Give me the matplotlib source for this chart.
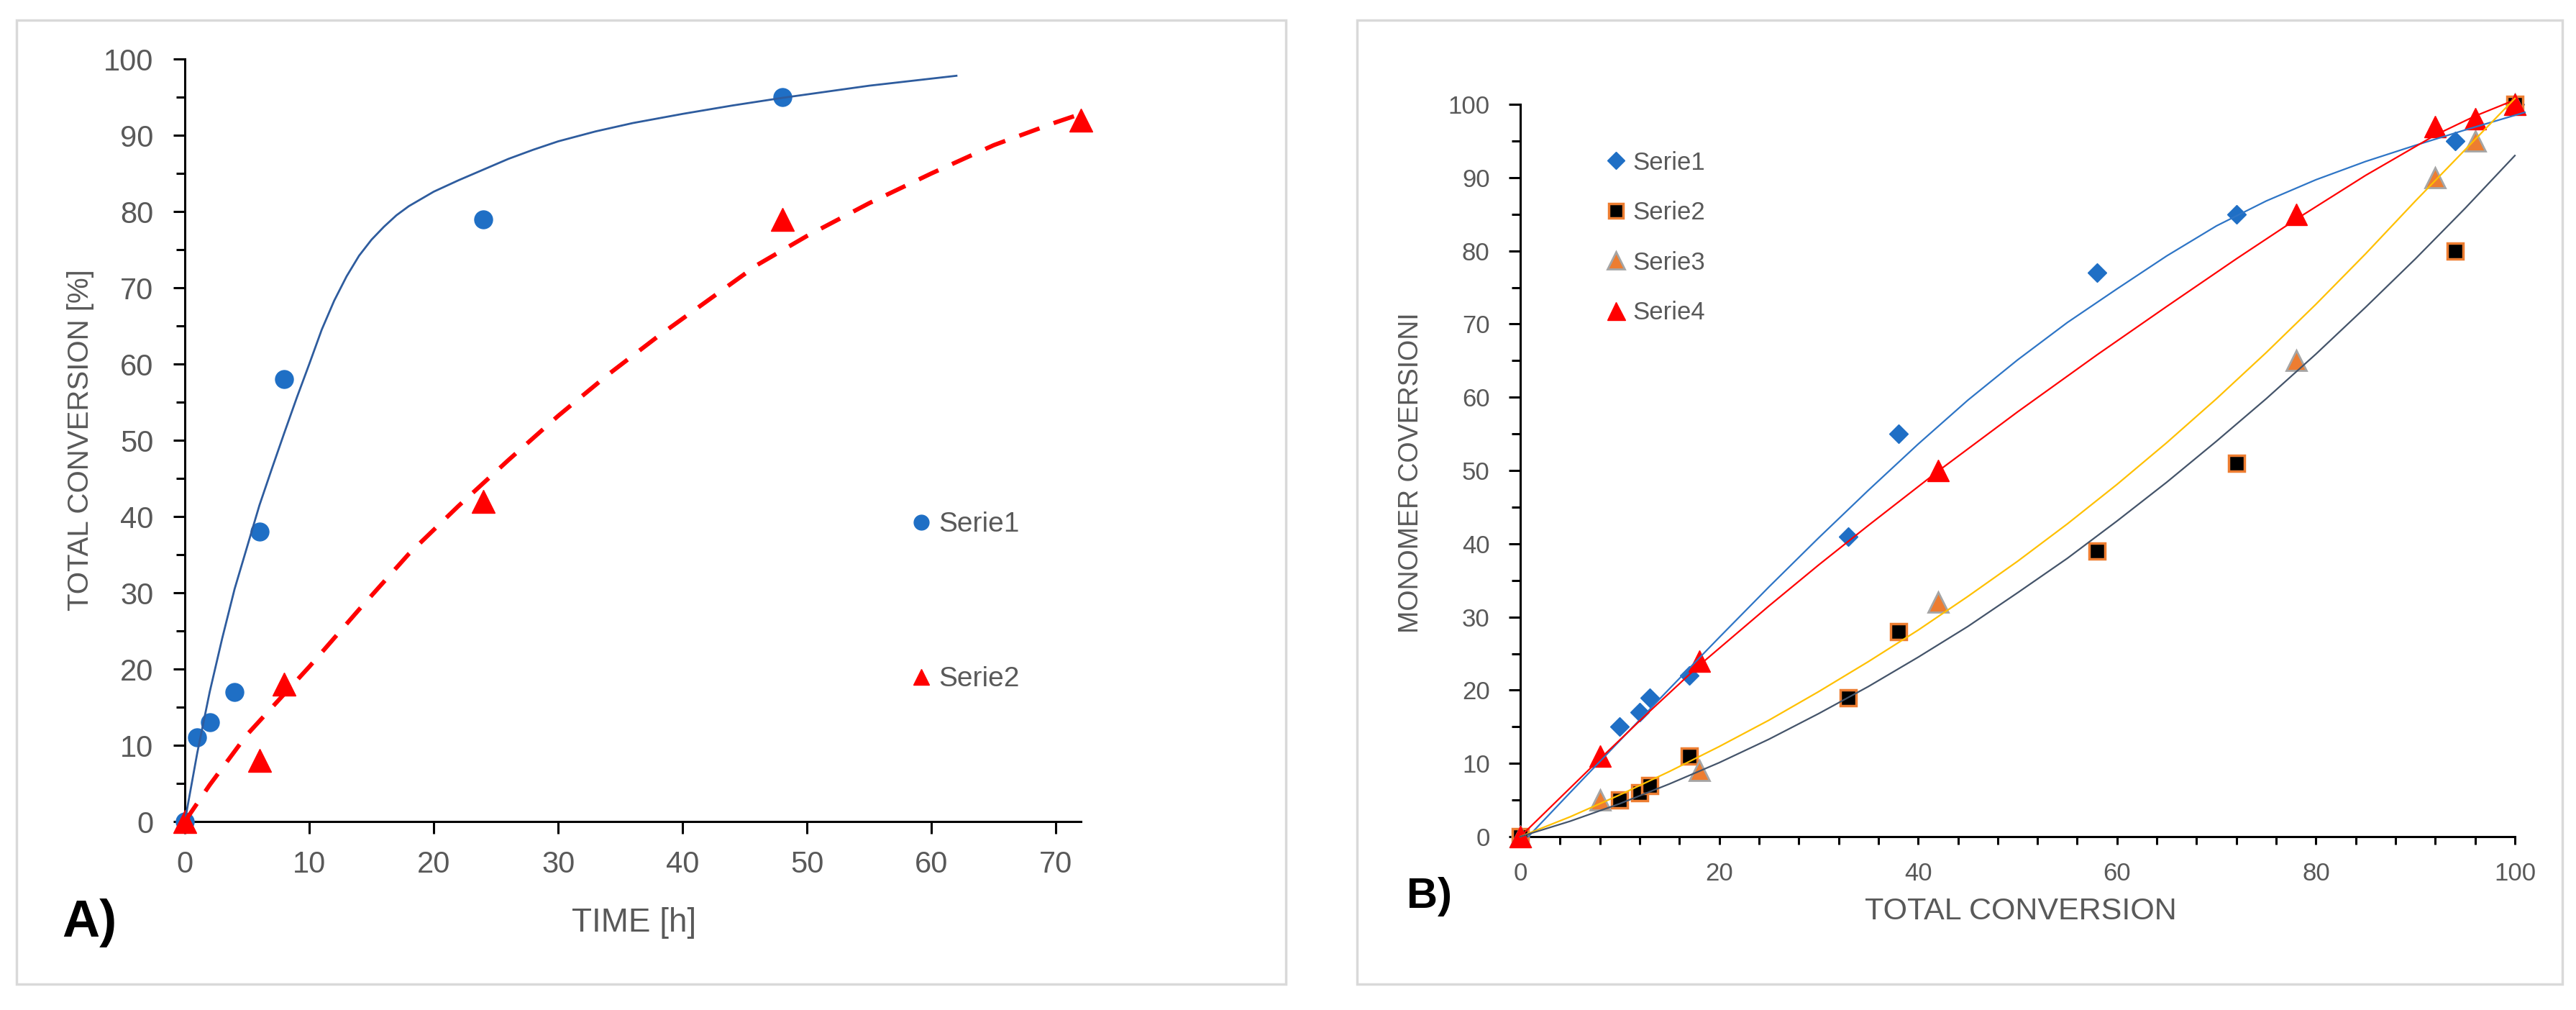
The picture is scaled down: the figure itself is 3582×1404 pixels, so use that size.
import matplotlib
matplotlib.use('Agg')
import matplotlib.pyplot as plt
from matplotlib.ticker import MultipleLocator
from matplotlib.patches import Rectangle
from matplotlib.lines import Line2D

narrow = ['Liberation Sans Narrow', 'Liberation Sans', 'DejaVu Sans']
regular = ['Liberation Sans', 'DejaVu Sans']
plt.rcParams['font.family'] = narrow
grey_txt = '#595959'

# ---- panel A : total conversion vs time ----
time_s1 = [0, 1, 2, 4, 6, 8, 24, 48]
conv_s1 = [0, 11, 13, 17, 38, 58, 79, 95]
time_s2 = [0, 6, 8, 24, 48, 72]
conv_s2 = [0, 8, 18, 42, 79, 92]
# trend curves
fit1_t = [0, 1, 2, 3, 4, 5, 6, 7, 8, 9, 10, 11, 12, 13, 14, 15, 16, 17, 18, 20, 22, 24, 26, 28,
          30, 33, 36, 40, 44, 48, 55, 62]
fit1_c = [0, 9, 17, 24, 30.5, 36, 41.5, 46.3, 51, 55.6, 60, 64.5, 68.3, 71.5, 74.2, 76.3, 78,
          79.5, 80.7, 82.6, 84.1, 85.5, 86.9, 88.1, 89.2, 90.5, 91.6, 92.8, 93.9, 94.9, 96.5, 97.8]
fit2_t = [0, 2, 5, 10, 14, 18, 22, 26, 30, 34, 38, 42, 46, 50, 55, 60, 65, 70, 72]
fit2_c = [0, 4.8, 11.4, 20.3, 27.8, 35.1, 41.4, 47.4, 53.2, 58.6, 63.6, 68.3, 73, 76.8, 81.1,
          85, 88.7, 91.7, 92.8]

# ---- panel B : monomer conversion vs total conversion ----
tot_12 = [0, 10, 12, 13, 17, 33, 38, 58, 72, 94, 100]
mono_s1 = [0, 15, 17, 19, 22, 41, 55, 77, 85, 95, 100]
mono_s2 = [0, 5, 6, 7, 11, 19, 28, 39, 51, 80, 100]
tot_34 = [0, 8, 18, 42, 78, 92, 96, 100]
mono_s3 = [0, 5, 9, 32, 65, 90, 95, 100]
mono_s4 = [0, 11, 24, 50, 85, 97, 98, 100]

blue_x = [0.8, 5, 10, 15, 20, 25, 30, 35, 40, 45, 50, 55, 60, 65, 70, 75, 80, 85, 90, 95, 101]
blue_y = [0, 6, 13.1, 20.2, 27.2, 34.1, 40.8, 47.3, 53.6, 59.6, 65.1, 70.2, 74.8, 79.3, 83.4,
          86.8, 89.7, 92.2, 94.4, 96.5, 98.9]
red_x = [0, 8, 13, 18, 25, 30, 35, 42, 50, 58, 65, 72, 78, 85, 92, 96, 100]
red_y = [0, 10.6, 17.1, 23.4, 31.5, 37.1, 42.5, 49.9, 58, 65.8, 72.4, 78.9, 84.3, 90.3, 95.8,
         98.4, 100.6]
yel_x = [0, 5, 10, 15, 20, 25, 30, 35, 40, 45, 50, 55, 60, 65, 70, 75, 80, 85, 90, 95, 100]
yel_y = [0, 2.7, 5.7, 8.9, 12.3, 15.9, 19.8, 23.9, 28.2, 32.8, 37.6, 42.7, 48.1, 53.8, 59.8,
         66.1, 72.7, 79.6, 86.8, 93.8, 100.8]
gry_x = [0, 5, 10, 15, 20, 25, 30, 35, 40, 45, 50, 55, 60, 65, 70, 75, 80, 85, 90, 95, 100]
gry_y = [0, 2.1, 4.5, 7.2, 10.1, 13.3, 16.8, 20.5, 24.5, 28.7, 33.3, 38, 43.1, 48.4, 54, 59.8,
         65.9, 72.3, 78.9, 85.8, 93]

W, H = 3582, 1404
fig = plt.figure(figsize=(W / 100, H / 100), dpi=100)
fig.patch.set_facecolor('white')

# light grey frames round each panel
fig.add_artist(Rectangle((23 / W, 1 - 1368 / H), 1765 / W, 1340 / H, transform=fig.transFigure,
                         fill=False, ec='#d9d9d9', lw=2.5))
fig.add_artist(Rectangle((1887 / W, 1 - 1368 / H), 1676 / W, 1340 / H, transform=fig.transFigure,
                         fill=False, ec='#d9d9d9', lw=2.5))

axA = fig.add_axes([257 / W, 1 - 1142 / H, (1503 - 257) / W, (1142 - 82) / H])
axB = fig.add_axes([2114 / W, 1 - 1163 / H, (3497 - 2114) / W, (1163 - 145) / H])

for ax in (axA, axB):
    for s in ('top', 'right'):
        ax.spines[s].set_visible(False)
    for s in ('left', 'bottom'):
        ax.spines[s].set_linewidth(2.2)
        ax.spines[s].set_color('black')
    ax.set_facecolor('none')

# panel A
axA.plot(time_s1, conv_s1, 'o', color='#1f6fc5', ms=18, mec='#1f6fc5', clip_on=False, zorder=3)
axA.plot(time_s2, conv_s2, '^', color='#ff0000', ms=23, mec='#ff0000', clip_on=False, zorder=3)
axA.plot(fit1_t, fit1_c, '-', color='#2e5c9e', lw=2.0, zorder=4)
axA.plot(fit2_t, fit2_c, color='#ff0000', lw=4.3, dashes=(5, 3.5), zorder=4, clip_on=False)
axA.set_xlim(0, 72)
axA.set_ylim(0, 100)
axA.yaxis.set_major_locator(MultipleLocator(10))
axA.yaxis.set_minor_locator(MultipleLocator(5))
axA.set_xticks(range(0, 71, 10))
axA.tick_params(axis='x', which='major', length=12, width=2.2, pad=17, labelsize=30, labelcolor=grey_txt)
axA.tick_params(axis='y', which='major', length=11.5, width=2.2, pad=20, labelsize=30, labelcolor=grey_txt)
axA.tick_params(axis='y', which='minor', length=8.5, width=2.2)

hA = [Line2D([], [], ls='', marker='o', color='#1f6fc5', ms=15),
      Line2D([], [], ls='', marker='^', color='#ff0000', ms=16)]
axA.legend(hA, ['Serie1', 'Serie2'], loc='center left', bbox_to_anchor=(0.8066, 0.288),
           frameon=False, fontsize=28, labelspacing=4.6, handlelength=1.0, handletextpad=0.1,
           borderpad=0, borderaxespad=0, labelcolor=grey_txt)

# panel B
axB.plot(tot_12, mono_s1, 'D', color='#1f6fc5', ms=13.5, clip_on=False, zorder=3)
axB.plot(tot_12, mono_s2, 's', color='black', mec='#ed7d31', mew=2.5, ms=16, clip_on=False, zorder=3)
axB.plot(tot_34, mono_s3, '^', color='#ed7d31', mec='#a5a5a5', mew=2, ms=20, clip_on=False, zorder=3)
axB.plot(tot_34, mono_s4, '^', color='#ff0000', mec='#ff0000', ms=21, clip_on=False, zorder=3)
axB.plot(blue_x, blue_y, color='#2e75c6', lw=1.6, clip_on=False, zorder=4)
axB.plot(red_x, red_y, color='#ff0000', lw=1.6, clip_on=False, zorder=4)
axB.plot(yel_x, yel_y, color='#ffc000', lw=1.6, clip_on=False, zorder=4)
axB.plot(gry_x, gry_y, color='#44546a', lw=1.6, clip_on=False, zorder=4)
axB.set_xlim(0, 100)
axB.set_ylim(0, 100)
axB.xaxis.set_major_locator(MultipleLocator(20))
axB.xaxis.set_minor_locator(MultipleLocator(4))
axB.yaxis.set_major_locator(MultipleLocator(10))
axB.yaxis.set_minor_locator(MultipleLocator(5))
axB.tick_params(axis='x', which='both', length=8, width=2.2, pad=17, labelsize=25, labelcolor=grey_txt)
axB.tick_params(axis='y', which='major', length=11.5, width=2.2, pad=19, labelsize=25, labelcolor=grey_txt)
axB.tick_params(axis='y', which='minor', length=8.5, width=2.2)
for lab in axB.get_xticklabels() + axB.get_yticklabels():
    lab.set_fontfamily(regular)

hB = [Line2D([], [], ls='', marker='D', color='#1f6fc5', ms=12),
      Line2D([], [], ls='', marker='s', color='black', mec='#ed7d31', mew=2.5, ms=15),
      Line2D([], [], ls='', marker='^', color='#ed7d31', mec='#a5a5a5', mew=2, ms=17),
      Line2D([], [], ls='', marker='^', color='#ff0000', ms=18)]
axB.legend(hB, ['Serie1', 'Serie2', 'Serie3', 'Serie4'], loc='center left',
           bbox_to_anchor=(0.0839, 0.818), frameon=False, fontsize=25, labelspacing=1.05,
           handlelength=1.0, handletextpad=0.15, borderpad=0, borderaxespad=0, labelcolor=grey_txt)

# axis titles and panel letters
fig.text(112 / W, 1 - 612 / H, 'TOTAL CONVERSION [%]', rotation=90, ha='center', va='center',
         fontsize=29, color=grey_txt, family=regular)
fig.text(882 / W, 1 - 1283 / H, 'TIME [h]', ha='center', va='center', fontsize=33, color=grey_txt)
fig.text(124 / W, 1 - 1283 / H, 'A)', ha='center', va='center', fontsize=52, fontweight='bold',
         color='black', family=regular)
fig.text(1962 / W, 1 - 657 / H, 'MONOMER COVERSIONI', rotation=90, ha='center', va='center',
         fontsize=27, color=grey_txt)
fig.text(2810 / W, 1 - 1267 / H, 'TOTAL CONVERSION', ha='center', va='center', fontsize=31,
         color=grey_txt)
fig.text(1988 / W, 1 - 1247 / H, 'B)', ha='center', va='center', fontsize=43, fontweight='bold',
         color='black', family=regular)

fig.savefig('out.png', dpi=100, facecolor='white')
